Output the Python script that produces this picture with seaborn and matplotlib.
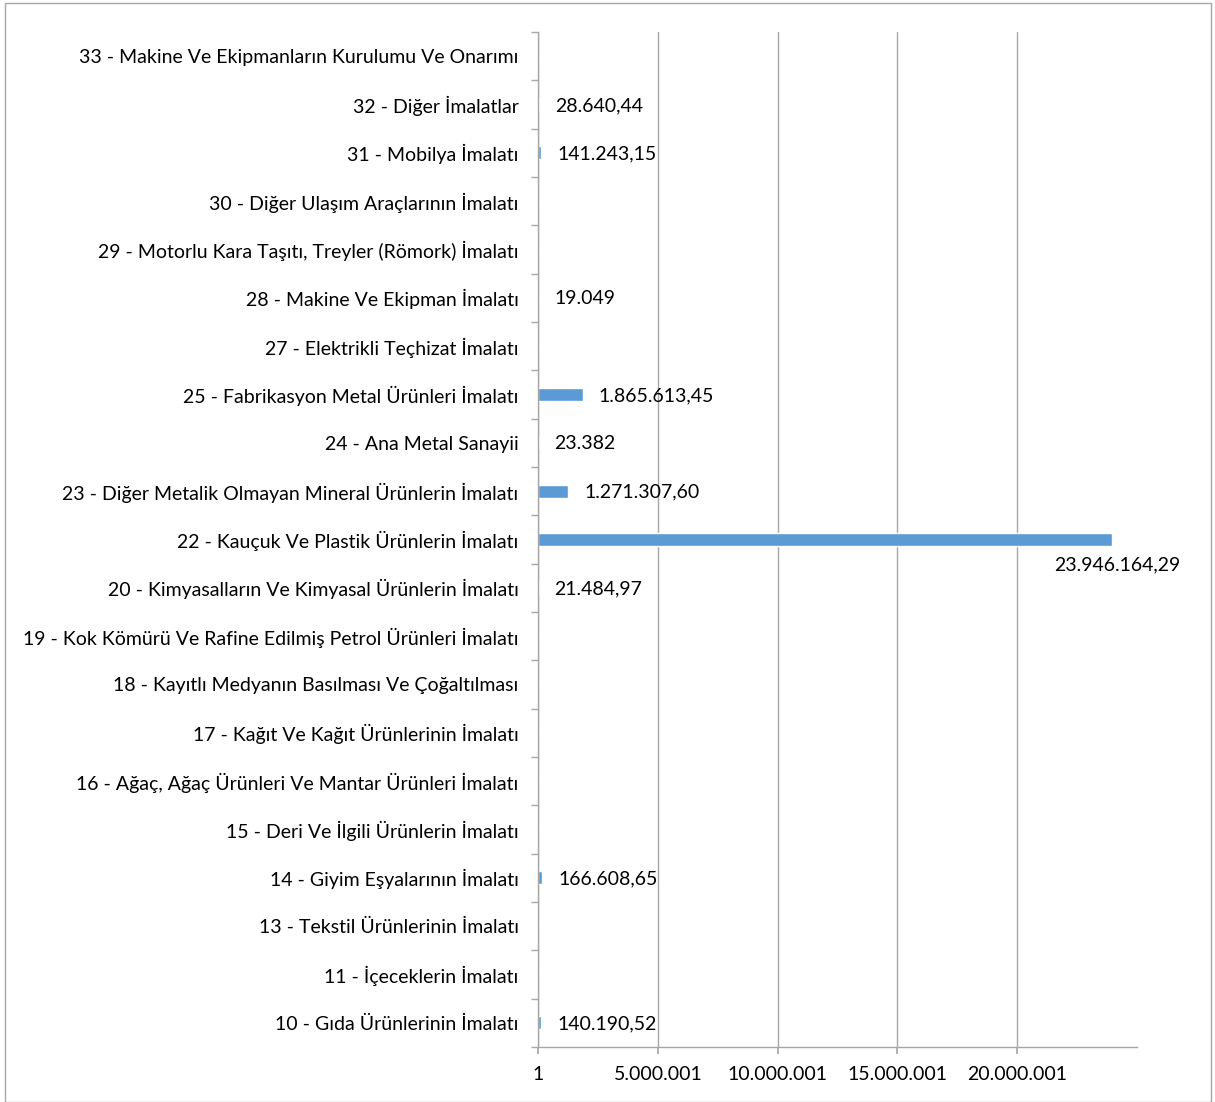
import matplotlib
matplotlib.use("Agg")
import matplotlib.pyplot as plt
import seaborn as sns
import pandas as pd
from matplotlib.patches import Rectangle

categories = [
    "33 - Makine Ve Ekipmanların Kurulumu Ve Onarımı",
    "32 - Diğer İmalatlar",
    "31 - Mobilya İmalatı",
    "30 - Diğer Ulaşım Araçlarının İmalatı",
    "29 - Motorlu Kara Taşıtı, Treyler (Römork) İmalatı",
    "28 - Makine Ve Ekipman İmalatı",
    "27 - Elektrikli Teçhizat İmalatı",
    "25 - Fabrikasyon Metal Ürünleri İmalatı",
    "24 - Ana Metal Sanayii",
    "23 - Diğer Metalik Olmayan Mineral Ürünlerin İmalatı",
    "22 - Kauçuk Ve Plastik Ürünlerin İmalatı",
    "20 - Kimyasalların Ve Kimyasal Ürünlerin İmalatı",
    "19 - Kok Kömürü Ve Rafine Edilmiş Petrol Ürünleri İmalatı",
    "18 - Kayıtlı Medyanın Basılması Ve Çoğaltılması",
    "17 - Kağıt Ve Kağıt Ürünlerinin İmalatı",
    "16 - Ağaç, Ağaç Ürünleri Ve Mantar Ürünleri İmalatı",
    "15 - Deri Ve İlgili Ürünlerin İmalatı",
    "14 - Giyim Eşyalarının İmalatı",
    "13 - Tekstil Ürünlerinin İmalatı",
    "11 - İçeceklerin İmalatı",
    "10 - Gıda Ürünlerinin İmalatı",
]
values = [0, 28640.44, 141243.15, 0, 0, 19049, 0, 1865613.45, 23382,
          1271307.60, 23946164.29, 21484.97, 0, 0, 0, 0, 0, 166608.65,
          0, 0, 140190.52]
value_labels = ["", "28.640,44", "141.243,15", "", "", "19.049", "",
                "1.865.613,45", "23.382", "1.271.307,60", "23.946.164,29",
                "21.484,97", "", "", "", "", "", "166.608,65", "", "",
                "140.190,52"]
x_ticks = [1, 5000001, 10000001, 15000001, 20000001]
x_tick_labels = ["1", "5.000.001", "10.000.001", "15.000.001", "20.000.001"]

df = pd.DataFrame({"category": categories, "value": values})

sns.set_theme(style="white")
plt.rcParams["font.family"] = ["Lato", "DejaVu Sans"]

fig = plt.figure(figsize=(12.15, 11.02), dpi=100)
ax = fig.add_axes([538 / 1215, 1 - 1047 / 1102, (1137 - 538) / 1215, (1047 - 32) / 1102])

sns.barplot(data=df, x="value", y="category", orient="h", color="#5B9BD5",
            saturation=1, width=0.27, ax=ax)

ax.set_xlim(1, 25000001)
ax.set_xticks(x_ticks)
ax.set_xticklabels(x_tick_labels)
ax.set_xlabel("")
ax.set_ylabel("")
ax.grid(axis="x", color="#A6A6A6", linewidth=1)
ax.grid(axis="y", visible=False)
ax.set_axisbelow(True)

for side in ["top", "right"]:
    ax.spines[side].set_visible(False)
for side in ["left", "bottom"]:
    ax.spines[side].set_color("#A6A6A6")
    ax.spines[side].set_linewidth(1)

# category boundary ticks on the y axis
n = len(categories)
ax.set_yticks([i + 0.5 for i in range(-1, n)], minor=True)
ax.tick_params(axis="y", which="minor", length=5, color="#A6A6A6", direction="out", left=True)
ax.tick_params(axis="y", which="major", length=0, pad=14, labelsize=14, labelcolor="black")
ax.tick_params(axis="x", which="major", length=5, color="#A6A6A6", direction="out",
               bottom=True, pad=9, labelsize=14, labelcolor="black")
for t in ax.get_yticklabels():
    t.set_y(t.get_position()[1])

# value labels
for i, (v, lab) in enumerate(zip(values, value_labels)):
    if not lab:
        continue
    if v > 20000000:
        ax.annotate(lab, (v, i), xytext=(6, -25), textcoords="offset pixels",
                    ha="center", va="center", fontsize=14, color="black",
                    annotation_clip=False)
    else:
        ax.annotate(lab, (v, i), xytext=(16, -1), textcoords="offset pixels",
                    ha="left", va="center", fontsize=14, color="black")

fig.patches.append(Rectangle((5 / 1215, 0), 1206 / 1215, 1 - 3 / 1102,
                             transform=fig.transFigure, fill=False,
                             edgecolor="#A6A6A6", linewidth=1))

fig.savefig("out.png", dpi=100)
